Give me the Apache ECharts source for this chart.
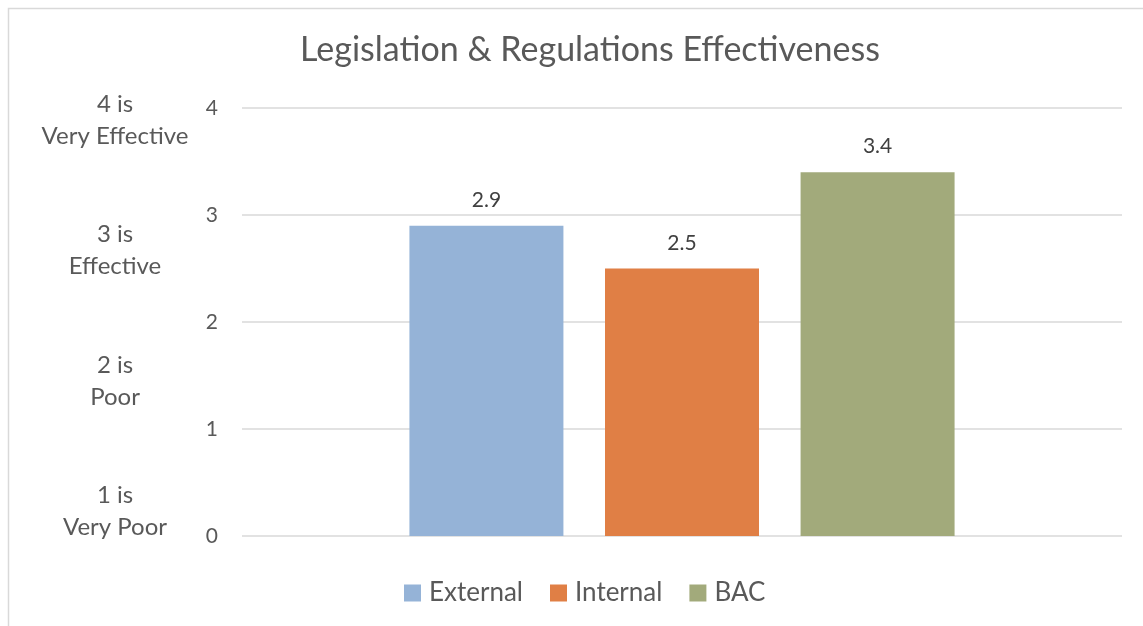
<!DOCTYPE html>
<html>
<head>
<meta charset="utf-8">
<script src="https://cdn.jsdelivr.net/npm/echarts@6/dist/echarts.min.js"></script>
<style>
  body { margin: 0; background: #fff; }
  #chart { width: 1143px; height: 626px; }
</style>
</head>
<body>
<div id="chart"></div>
<script>
const seriesNames = ['External', 'Internal', 'BAC']
const seriesValues = [2.9, 2.5, 3.4]
const seriesColors = ['#95b3d7', '#e07f45', '#a2aa7b']
const yTicks = [0, 1, 2, 3, 4]
const scaleNotes = ['4 is\nVery Effective', '3 is\nEffective', '2 is\nPoor', '1 is\nVery Poor']

const chart = echarts.init(document.getElementById('chart'))
const font = 'Lato, "Open Sans", sans-serif'

// scale notes on the far left, stacked top to bottom (centre x = 115)
const noteTops = [88, 218, 349, 479]
const notes = scaleNotes.map((t, i) => ({
  type: 'text',
  x: 115,
  y: noteTops[i],
  silent: true,
  style: {
    text: t,
    textAlign: 'center',
    font: '24px ' + font,
    fill: '#595959',
    lineHeight: 32,
  },
}))

const option = {
  animation: false,
  title: {
    text: 'Legislation & Regulations Effectiveness',
    left: 585,
    textAlign: 'center',
    top: 28,
    textStyle: { fontFamily: font, fontSize: 34, fontWeight: 'normal', color: '#595959' },
  },
  grid: { left: 242, right: 21, top: 108, bottom: 90 },
  legend: {
    left: 399,
    top: 575,
    itemWidth: 17,
    itemHeight: 17,
    itemGap: 27,
    icon: 'rect',
    textStyle: { fontFamily: font, fontSize: 26, color: '#595959', padding: [0, 0, 0, 3] },
    data: seriesNames,
  },
  xAxis: {
    type: 'category',
    data: [''],
    axisLine: { show: false },
    axisTick: { show: false },
    axisLabel: { show: false },
  },
  yAxis: {
    type: 'value',
    min: 0,
    max: 4,
    interval: 1,
    axisLine: { show: false },
    axisTick: { show: false },
    axisLabel: {
      fontFamily: font,
      fontSize: 21,
      color: '#595959',
      margin: 24,
      formatter: v => (yTicks.includes(v) ? String(v) : ''),
    },
    splitLine: { lineStyle: { color: '#d9d9d9', width: 1.5 } },
  },
  series: seriesNames.map((name, i) => ({
    name: name,
    type: 'bar',
    data: [seriesValues[i]],
    barWidth: 154,
    barGap: '27%',
    itemStyle: { color: seriesColors[i] },
    label: {
      show: true,
      position: 'top',
      distance: 15,
      fontFamily: font,
      fontSize: 21,
      color: '#404040',
    },
  })),
  graphic: [
    {
      type: 'rect',
      shape: { x: 8.5, y: 8.5, width: 1200, height: 700 },
      style: { fill: 'none', stroke: '#d9d9d9', lineWidth: 1.5 },
      silent: true,
    },
    ...notes,
  ],
}

chart.setOption(option)
</script>
</body>
</html>
